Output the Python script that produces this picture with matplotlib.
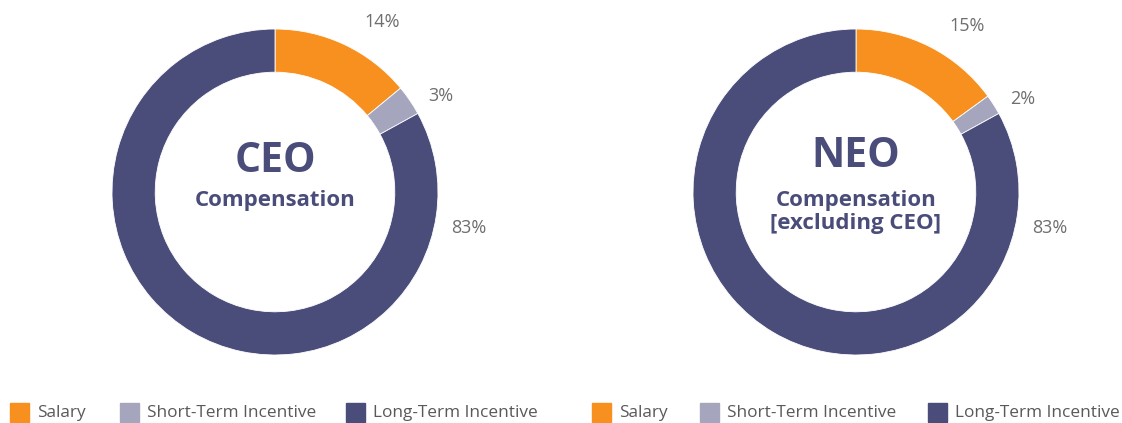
import matplotlib.pyplot as plt
from matplotlib.patches import Rectangle

plt.rcParams['font.family'] = ['Open Sans', 'DejaVu Sans']

categories = ['Salary', 'Short-Term Incentive', 'Long-Term Incentive']
ceo_values = [14, 3, 83]
neo_values = [15, 2, 83]
titles = ['CEO', 'NEO']
subtitles = [['Compensation'], ['Compensation', '[excluding CEO]']]

colors = ['#F7901E', '#A5A5BD', '#4A4C7A']
text_dark = '#4A4C7A'
label_grey = '#6E6E6E'

# label spots in pie units (radius 1 = outer edge)
label_pos = [[(0.66, 1.04), (1.02, 0.59), (1.19, -0.22)],
             [(0.68, 1.02), (1.02, 0.57), (1.19, -0.22)]]

W, H = 1122, 423
fig = plt.figure(figsize=(W / 100, H / 100), dpi=100)

centers = [(275, 192), (856, 192)]
R = 163
for i, vals in enumerate([ceo_values, neo_values]):
    cx, cy = centers[i]
    ax = fig.add_axes([(cx - R) / W, (H - cy - R) / H, 2 * R / W, 2 * R / H])
    ax.pie(vals, colors=colors, startangle=90, counterclock=False, radius=1,
           wedgeprops=dict(width=0.265, edgecolor='white', linewidth=0.6))
    ax.set_xlim(-1, 1)
    ax.set_ylim(-1, 1)
    ax.set_aspect('equal')
    ax.axis('off')
    for v, (lx, ly) in zip(vals, label_pos[i]):
        ax.text(lx, ly, f'{v}%', ha='center', va='center', fontsize=13,
                color=label_grey, clip_on=False)
    ty = 0.19 if i == 0 else 0.215
    ax.text(0, ty, titles[i], ha='center', va='center', fontsize=29.5,
            fontweight='bold', color=text_dark)
    for k, line in enumerate(subtitles[i]):
        ax.text(0, -0.055 - 0.14 * k, line, ha='center', va='center',
                fontsize=16, fontweight='bold', color=text_dark)

# legends under each ring
leg_ax = fig.add_axes([0, 0, 1, 1])
leg_ax.set_xlim(0, W)
leg_ax.set_ylim(H, 0)
leg_ax.axis('off')
swatch_x = [[10, 120, 346], [592, 700, 928]]
for group in swatch_x:
    for sx, name, c in zip(group, categories, colors):
        leg_ax.add_patch(Rectangle((sx, 403), 19, 19, color=c))
        leg_ax.text(sx + 27, 413, name, ha='left', va='center', fontsize=12.4,
                    color='#595959')

fig.savefig('out.png', dpi=100)
